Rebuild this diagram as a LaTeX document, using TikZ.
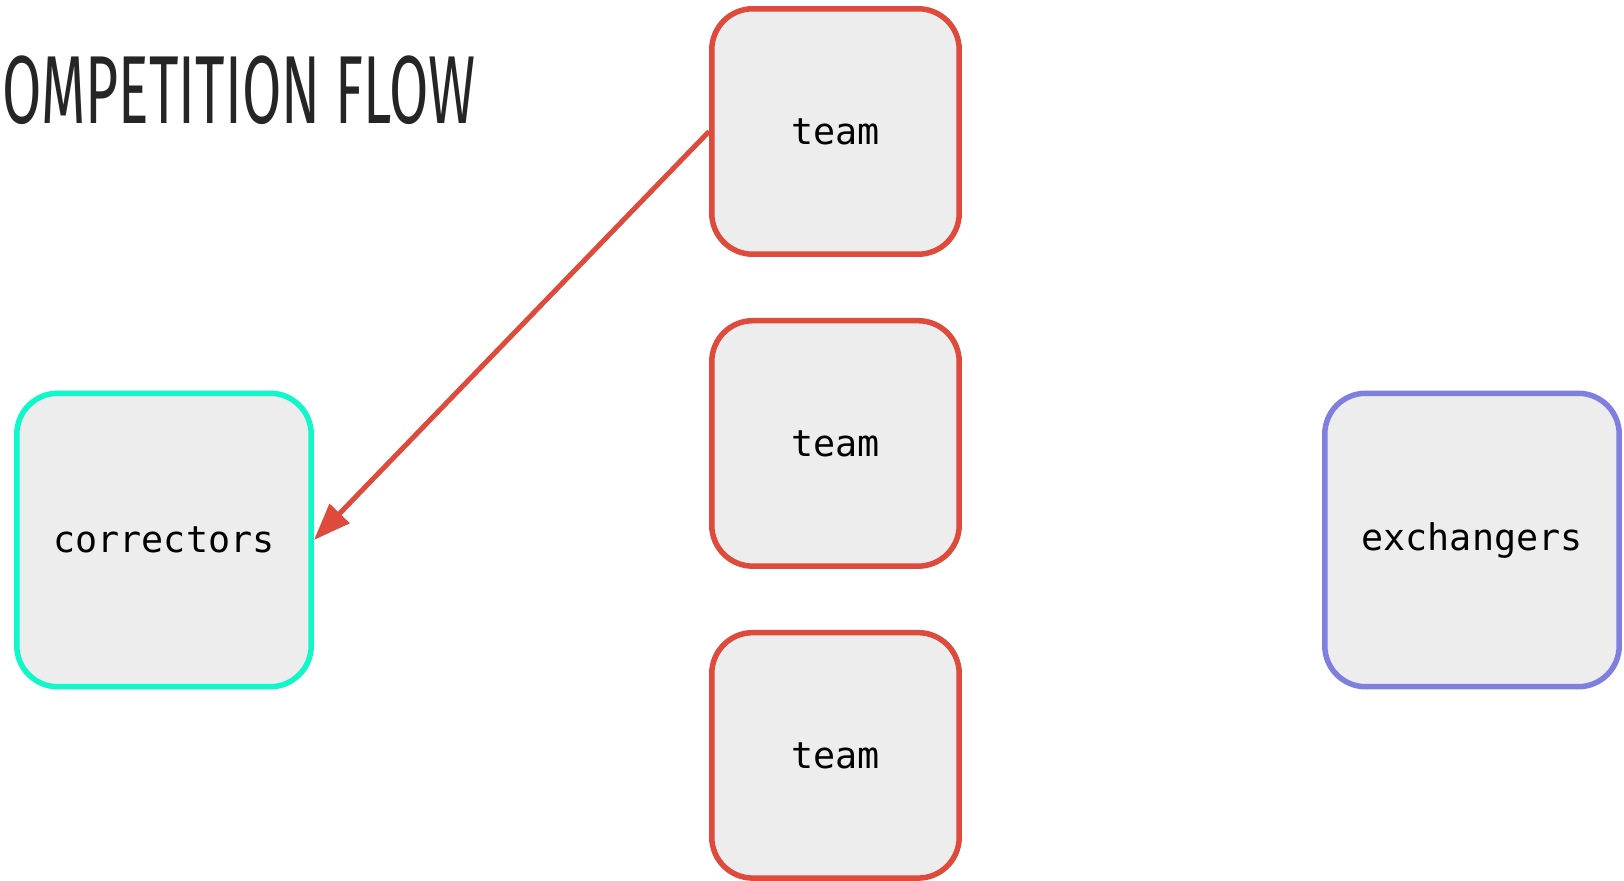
\documentclass[tikz,border=0pt]{standalone}
\usepackage{fontspec}
\usetikzlibrary{positioning,arrows.meta}

\newfontfamily\boxfont{DejaVu Sans Mono}
\newfontfamily\titlefont[FakeStretch=0.59]{Fira Sans}

\definecolor{teamred}{HTML}{DE4A3B}
\definecolor{corrteal}{HTML}{10F8CA}
\definecolor{exchblue}{HTML}{7F7FE0}
\definecolor{boxgray}{HTML}{EDEDED}
\definecolor{titlegray}{HTML}{252525}

\begin{document}
\begin{tikzpicture}[x=0.02cm, y=-0.02cm,
		every node/.style={font=\boxfont\fontsize{20.9}{25}\selectfont},
		box/.style={draw, fill=boxgray, rounded corners=0.82cm, line width=0.11cm,
			minimum width=4.95cm, minimum height=4.91cm},
		bigbox/.style={box, minimum width=5.89cm, minimum height=5.87cm},
		node distance=1.22cm]
	\path[use as bounding box] (0,0) rectangle (1624,881);

	% heading
	\node[font=\titlefont\fontsize{55}{60}\selectfont, text=titlegray,
		inner sep=0, anchor=base west] (title) at (2,124) {OMPETITION FLOW};

	% teams in a column
	\node[box, draw=teamred] (team1) at (835.5,131.5) {team};
	\node[box, draw=teamred, below=of team1] (team2) {team};
	\node[box, draw=teamred, below=of team2] (team3) {team};

	% the two sides
	\node[bigbox, draw=corrteal] (correctors) at (164,540) {correctors};
	\node[bigbox, draw=exchblue] (exchangers) at (1472,540) {exchangers};

	\draw[teamred, line width=0.1cm, -{Triangle[length=0.74cm, width=0.54cm]}]
		(team1.west) -- (correctors.east);
\end{tikzpicture}
\end{document}
